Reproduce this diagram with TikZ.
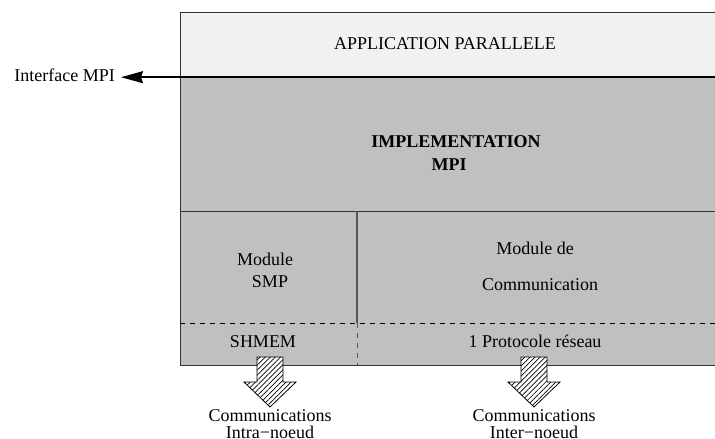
\documentclass[tikz,border=0pt]{standalone}
\usepackage{fontspec}
\setmainfont{Liberation Serif}
\usepackage{tikz}
\usetikzlibrary{positioning,patterns.meta,arrows.meta}

\definecolor{appfill}{HTML}{F1F1F1}
\definecolor{layerfill}{HTML}{C0C0C0}
\definecolor{sepgray}{HTML}{555555}

\begin{document}
\fontsize{18}{17}\selectfont
\begin{tikzpicture}[x=1pt, y=-1pt,
  layer/.style={draw=black!80, line width=1.2pt, anchor=north west, inner sep=0pt},
  sepdash/.style={dashed, dash pattern=on 5pt off 5pt, line width=0.9pt},
  commarrow/.style={draw=black, line width=0.8pt, preaction={fill=white},
    pattern={Lines[angle=45,distance=3.6pt,line width=0.7pt]}}]
  \useasboundingbox (0,0) rectangle (715,439);

  % Layers
  \node[layer, fill=appfill, minimum width=537pt, minimum height=64pt] (appli) at (180,12) {};
  \node[layer, fill=layerfill, minimum width=537pt, minimum height=135pt] (impl) at (180,76) {};
  \node[layer, fill=layerfill, minimum width=537pt, minimum height=154pt] (modules) at (180,211) {};

  % Module split
  \coordinate (split top) at (357,211);
  \coordinate (split mid) at (357,323);
  \coordinate (split bot) at (357,365);
  \draw[sepgray, line width=1.2pt] (split top) -- (split mid);
  \draw[sepdash, sepgray] (split mid) -- (split bot);
  \draw[sepdash] (modules.west |- split mid) -- (modules.east |- split mid);

  % Interface MPI
  \node[anchor=east] (iface) at (121,75) {Interface MPI};
  \draw[line width=1.6pt, -{Stealth[length=22pt,width=12pt,inset=2pt]}] (appli.south east) -- (iface.east |- appli.south);

  % Texts
  \node (apptitle) at (445,44) {APPLICATION PARALLELE};
  \node[font=\bfseries] (impltitle) at (456,142) {IMPLEMENTATION};
  \node[font=\bfseries] (implmpi) at (449,165) {MPI};
  \node (smp1) at (265,259) {Module};
  \node (smp2) at (270,282) {SMP};
  \node (comm1) at (535,248) {Module de};
  \node (comm2) at (540,285) {Communication};
  \node (shmem) at (263,342) {SHMEM};
  \node (proto) at (535,341) {1 Protocole r\'eseau};

  % Communication arrows
  \foreach \n/\x/\t in {intra/270/Intra, inter/534/Inter} {
    \coordinate (\n) at (\x,357);
    \path[commarrow] (\n) ++(-13,0) -- ++(26,0) -- ++(0,25) -- ++(13,0)
      -- ++(-26,25) -- ++(-26,-25) -- ++(13,0) -- cycle;
    \node[align=center] (\n lbl) at (\x,424) {Communications\\\t−noeud};
  }
\end{tikzpicture}
\end{document}
